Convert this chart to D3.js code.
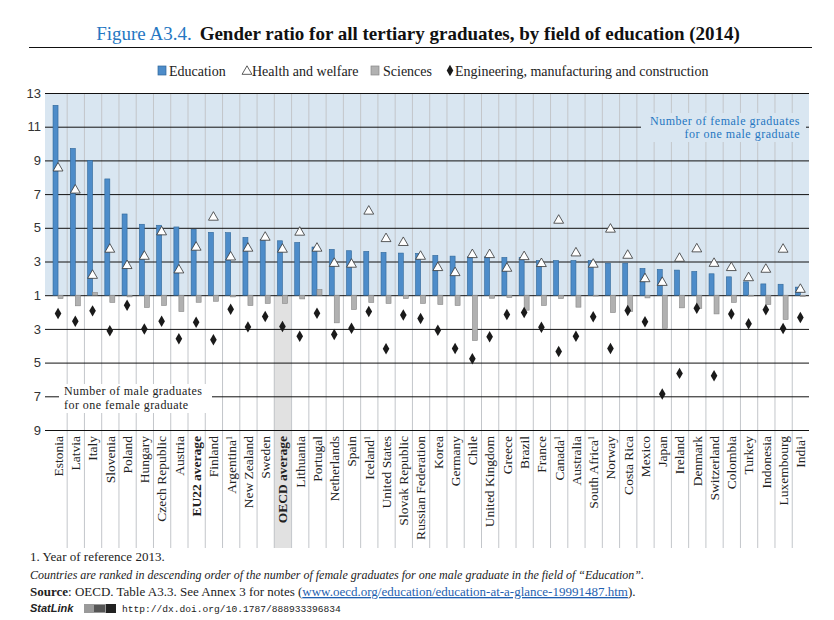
<!DOCTYPE html>
<html><head><meta charset="utf-8">
<script src="https://cdn.jsdelivr.net/npm/d3@7"></script>
<style>body{margin:0;background:#fff} svg{display:block}</style>
</head><body>
<svg id="chart" width="834" height="620"></svg>
<script>
// Signed convention: positive = female graduates per male graduate,
// negative = male graduates per female graduate.
const categories = ["Estonia","Latvia","Italy","Slovenia","Poland","Hungary","Czech Republic","Austria","EU22 average","Finland","Argentina","New Zealand","Sweden","OECD average","Lithuania","Portugal","Netherlands","Spain","Iceland","United States","Slovak Republic","Russian Federation","Korea","Germany","Chile","United Kingdom","Greece","Brazil","France","Canada","Australia","South Africa","Norway","Costa Rica","Mexico","Japan","Ireland","Denmark","Switzerland","Colombia","Turkey","Indonesia","Luxembourg","India"];
const noteRef = ["Argentina","Iceland","Canada","South Africa","India"];
const boldCats = ["EU22 average","OECD average"];
const highlightCat = "OECD average";
const education = [12.27,9.71,9.0,7.9,5.82,5.21,5.15,5.05,4.91,4.73,4.71,4.43,4.31,4.23,4.13,3.86,3.72,3.64,3.6,3.54,3.5,3.48,3.36,3.32,3.28,3.28,3.24,3.24,3.06,3.06,3.06,3.06,2.9,2.9,2.59,2.53,2.49,2.41,2.27,2.09,1.79,1.67,1.65,1.48];
const health = [8.54,7.23,2.17,3.72,2.75,3.3,4.75,2.49,3.84,5.62,3.26,3.78,4.43,3.72,4.73,3.78,2.88,2.83,5.98,4.35,4.12,3.3,2.63,2.33,3.4,3.4,2.59,3.28,2.87,5.44,3.5,2.83,4.91,3.36,1.97,1.75,3.18,3.74,2.88,2.63,2.03,2.53,3.72,1.34];
const sciences = [-1.2,-1.63,1.16,-1.43,-1.1,-1.73,-1.61,-1.97,-1.42,-1.36,-1.1,-1.61,-1.49,-1.49,-1.22,1.34,-2.64,-1.85,-1.43,-1.49,-1.2,-1.49,-1.55,-1.61,-3.69,-1.18,-1.14,-1.89,-1.61,-1.2,-1.71,-1.05,-2.03,-1.97,-1.16,-2.98,-1.75,-1.79,-2.11,-1.43,-1.05,-1.55,-2.44,-1.08];
const engineering = [-2.09,-2.54,-1.93,-3.11,-1.59,-3.0,-2.54,-3.59,-2.6,-3.65,-1.83,-2.88,-2.26,-2.86,-3.43,-2.07,-3.33,-2.96,-1.97,-4.18,-2.17,-2.38,-3.08,-4.16,-4.77,-3.47,-2.15,-2.03,-2.9,-4.34,-3.43,-2.28,-4.16,-1.91,-2.58,-6.87,-5.64,-1.77,-5.78,-2.11,-2.7,-1.87,-2.98,-2.32];
const yTicks = [13,11,9,7,5,3,1,-3,-5,-7,-9];
const legendLabels = ["Education","Health and welfare","Sciences","Engineering, manufacturing and construction"];

const SERIF = "'Liberation Serif','DejaVu Serif',serif";
const SANS = "'Liberation Sans',Arial,sans-serif";
const BLUE_BG = "#d9e6f1", BAR_BLUE = "#4d8cc9", BAR_BLUE_S = "#2f6698";
const BAR_GREY = "#b1b1b1", BAR_GREY_S = "#878787", TEXT_BLUE = "#2577c2";

const svg = d3.select("#chart");
const L = 45, R = 809, T = 93, B = 430, LABEL_BOTTOM = 548;
const toAxis = v => v >= 1 ? v - 1 : v + 1;
const y = d3.scaleLinear().domain([-8, 12]).range([B, T]);
const x = d3.scaleBand().domain(categories).range([49.4, R]).padding(0);
const y0 = y(0);

// Title
const title = svg.append("text").attr("x", 418).attr("y", 40).attr("text-anchor", "middle")
  .style("font-family", SERIF).style("font-size", "19px");
title.append("tspan").attr("fill", TEXT_BLUE).text("Figure A3.4.");
title.append("tspan").attr("fill", "#111").attr("font-weight", "bold").attr("dx", 8)
  .text("Gender ratio for all tertiary graduates, by field of education (2014)");
svg.append("line").attr("x1", 29).attr("x2", 812).attr("y1", 47.5).attr("y2", 47.5).attr("stroke", "#111");

// Legend
const lg = svg.append("g").style("font-family", SERIF).style("font-size", "14px").attr("fill", "#222");
lg.append("rect").attr("x", 158).attr("y", 66).attr("width", 8).attr("height", 9).attr("fill", BAR_BLUE).attr("stroke", BAR_BLUE_S).attr("stroke-width", 0.7);
lg.append("text").attr("x", 169).attr("y", 75.5).text(legendLabels[0]);
lg.append("path").attr("d", d3.symbol(d3.symbolTriangle, 42)()).attr("transform", "translate(247,71.5)").attr("fill", "#fff").attr("stroke", "#333").attr("stroke-width", 0.8);
lg.append("text").attr("x", 252).attr("y", 75.5).text(legendLabels[1]);
lg.append("rect").attr("x", 371).attr("y", 66).attr("width", 8).attr("height", 9).attr("fill", BAR_GREY).attr("stroke", BAR_GREY_S).attr("stroke-width", 0.7);
lg.append("text").attr("x", 383).attr("y", 75.5).text(legendLabels[2]);
lg.append("path").attr("d", d3.symbol(d3.symbolDiamond, 38)()).attr("transform", "translate(450,70.5)").attr("fill", "#1a1a1a");
lg.append("text").attr("x", 455).attr("y", 75.5).text(legendLabels[3]);

// Backgrounds
svg.append("rect").attr("x", L).attr("y", T).attr("width", R - L).attr("height", y0 - T).attr("fill", BLUE_BG);
svg.append("rect").attr("x", x(highlightCat)).attr("y", y0).attr("width", x.bandwidth()).attr("height", LABEL_BOTTOM - y0).attr("fill", "#e1e1e1");

// Vertical separators
svg.append("g").selectAll("line").data(categories.slice(1)).join("line")
  .attr("x1", d => x(d) + 0.5).attr("x2", d => x(d) + 0.5)
  .attr("y1", T).attr("y2", LABEL_BOTTOM)
  .attr("stroke", "#c3c6ca").attr("stroke-width", 1);

// Y axis with gridlines
const yAxis = svg.append("g").attr("transform", `translate(${L},0)`)
  .call(d3.axisLeft(y).tickValues(yTicks.map(toAxis)).tickSize(-(R - L)).tickPadding(4)
    .tickFormat(d => Math.abs(d) + 1));
yAxis.select(".domain").remove();
yAxis.selectAll(".tick line").attr("stroke", "#111").attr("stroke-width", 1);
yAxis.selectAll(".tick text").style("font-family", SANS).style("font-size", "13px").attr("fill", "#333");

// Annotation boxes
svg.append("rect").attr("x", 641).attr("y", 113).attr("width", 165).attr("height", 29).attr("fill", BLUE_BG);
const fa = svg.append("text").attr("text-anchor", "end").attr("fill", TEXT_BLUE)
  .style("font-family", SERIF).style("font-size", "12px").style("letter-spacing", "0.5px");
fa.append("tspan").attr("x", 800).attr("y", 124.5).text("Number of female graduates");
fa.append("tspan").attr("x", 800).attr("y", 138).text("for one male graduate");
svg.append("rect").attr("x", 59).attr("y", 384).attr("width", 153).attr("height", 29).attr("fill", "#fff");
const ma = svg.append("text").attr("fill", "#222")
  .style("font-family", SERIF).style("font-size", "12px").style("letter-spacing", "0.45px");
ma.append("tspan").attr("x", 64).attr("y", 395).text("Number of male graduates");
ma.append("tspan").attr("x", 64).attr("y", 408.5).text("for one female graduate");

const cx = d => x(d) + x.bandwidth() / 2;
const idx = categories.map((c, i) => i);

// Education bars
svg.append("g").selectAll("rect").data(idx).join("rect")
  .attr("x", i => cx(categories[i]) - 5).attr("width", 5)
  .attr("y", i => y(toAxis(education[i]))).attr("height", i => y0 - y(toAxis(education[i])))
  .attr("fill", BAR_BLUE).attr("stroke", BAR_BLUE_S).attr("stroke-width", 0.6);

// Sciences bars
svg.append("g").selectAll("rect").data(idx).join("rect")
  .attr("x", i => cx(categories[i])).attr("width", 5)
  .attr("y", i => Math.min(y0, y(toAxis(sciences[i]))))
  .attr("height", i => Math.abs(y0 - y(toAxis(sciences[i]))))
  .attr("fill", BAR_GREY).attr("stroke", BAR_GREY_S).attr("stroke-width", 0.6);

// Health triangles
svg.append("g").selectAll("path").data(idx).join("path")
  .attr("d", d3.symbol(d3.symbolTriangle, 42)())
  .attr("transform", i => `translate(${cx(categories[i])},${y(toAxis(health[i]))})`)
  .attr("fill", "#fff").attr("stroke", "#333").attr("stroke-width", 0.8);

// Engineering diamonds
svg.append("g").selectAll("path").data(idx).join("path")
  .attr("d", d3.symbol(d3.symbolDiamond, 38)())
  .attr("transform", i => `translate(${cx(categories[i])},${y(toAxis(engineering[i]))})`)
  .attr("fill", "#1a1a1a");

// X labels
const xAxis = svg.append("g").attr("transform", `translate(0,${B})`)
  .call(d3.axisBottom(x).tickSize(0).tickPadding(0));
xAxis.select(".domain").remove();
xAxis.selectAll(".tick text").each(function(d) {
  const t = d3.select(this);
  t.text(null).attr("transform", "rotate(-90)").attr("x", -6).attr("y", 0).attr("dy", "0.36em")
    .attr("text-anchor", "end").attr("fill", "#222")
    .style("font-family", SERIF).style("font-size", "13.5px")
    .attr("font-weight", boldCats.includes(d) ? "bold" : "normal");
  t.append("tspan").text(d);
  if (noteRef.includes(d)) t.append("tspan").attr("dy", "-0.45em").style("font-size", "8px").text("1");
});

// Footer
const ft = svg.append("g").style("font-family", SERIF).style("font-size", "13px").attr("fill", "#222");
ft.append("text").attr("x", 30).attr("y", 561).text("1. Year of reference 2013.");
ft.append("text").attr("x", 30).attr("y", 579).style("font-style", "italic").style("font-size", "12px")
  .text("Countries are ranked in descending order of the number of female graduates for one male graduate in the field of \u201cEducation\u201d.");
const src = ft.append("text").attr("x", 30).attr("y", 596).style("font-size", "13px");
src.append("tspan").attr("font-weight", "bold").text("Source");
src.append("tspan").text(": OECD. Table A3.3. See Annex 3 for notes (");
src.append("tspan").attr("fill", "#1f5fb0").attr("text-decoration", "underline").text("www.oecd.org/education/education-at-a-glance-19991487.htm");
src.append("tspan").text(").");
svg.append("text").attr("x", 30).attr("y", 612).attr("fill", "#222")
  .style("font-family", SANS).style("font-size", "11px").style("font-style", "italic").attr("font-weight", "bold").text("StatLink");
const ic = svg.append("g").attr("transform", "translate(84,604)");
ic.append("rect").attr("width", 32).attr("height", 9).attr("fill", "#9a9a9a");
ic.append("rect").attr("x", 10).attr("y", 1).attr("width", 11).attr("height", 7).attr("fill", "#555");
ic.append("rect").attr("x", 22).attr("width", 10).attr("height", 9).attr("fill", "#222");
svg.append("text").attr("x", 122).attr("y", 612).attr("fill", "#222")
  .style("font-family", "'Liberation Mono','DejaVu Sans Mono',monospace").style("font-size", "9.6px")
  .text("http://dx.doi.org/10.1787/888933396834");
</script>
</body></html>
